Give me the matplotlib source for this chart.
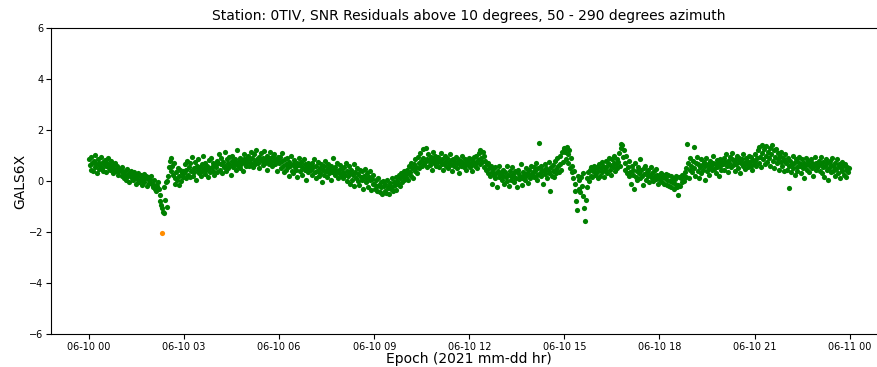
import matplotlib
matplotlib.use("Agg")
import matplotlib.dates as mdates
import matplotlib.pyplot as plt
import numpy as np
import pandas as pd

# residuals, one list per hour, 90 s epochs
hour_values = [
    [0.85, 0.62, 0.45, 0.95, 0.70, 0.38, 0.78, 1.02, 0.55, 0.66, 0.30, 0.88, 0.72, 0.48, 0.60, 0.95, 0.52, 0.75, 0.40, 0.68,
     0.82, 0.58, 0.35, 0.70, 0.90, 0.50, 0.62, 0.44, 0.78, 0.56, 0.30, 0.66, 0.48, 0.72, 0.40, 0.58, 0.25, 0.52, 0.38, 0.45],
    [0.42, 0.20, 0.55, 0.30, 0.10, 0.38, 0.25, 0.05, 0.48, 0.18, 0.32, -0.05, 0.22, 0.40, 0.12, 0.28, 0.02, 0.35, 0.15, -0.10,
     0.25, 0.08, 0.30, -0.02, 0.18, 0.05, 0.22, -0.15, 0.12, 0.28, -0.05, 0.10, 0.20, -0.20, 0.06, 0.15, -0.08, 0.02, 0.18, -0.12],
    [-0.10, -0.25, 0.05, -0.30, -0.15, -0.40, -0.20, -0.05, -0.30, -0.55, -0.80, -0.94, -1.06, -1.20, -1.25, -0.25, -0.75, -0.05, -1.00, 0.00,
     0.20, 0.55, 0.80, 0.40, 0.90, 0.60, 0.25, 0.70, 0.10, -0.10, 0.35, 0.05, 0.50, -0.15, 0.20, 0.45, 0.00, 0.30, 0.15, 0.40],
    [0.30, 0.65, 0.10, 0.45, 0.80, 0.25, 0.55, 0.15, 0.70, 0.40, 0.95, 0.20, 0.50, 0.35, 0.75, 0.05, 0.60, 0.45, 0.85, 0.30,
     0.55, 0.20, 0.68, 0.40, 1.00, 0.50, 0.28, 0.72, 0.45, 0.60, 0.15, 0.82, 0.50, 0.35, 0.90, 0.55, 0.40, 0.70, 0.25, 0.62],
    [0.55, 0.80, 0.35, 0.70, 1.05, 0.45, 0.65, 0.90, 0.30, 0.75, 0.55, 1.15, 0.60, 0.40, 0.85, 0.70, 0.50, 0.95, 0.62, 0.25,
     0.78, 1.00, 0.55, 0.68, 0.88, 0.42, 0.72, 1.20, 0.60, 0.80, 0.50, 0.92, 0.65, 0.75, 0.38, 0.85, 1.05, 0.70, 0.58, 0.90],
    [0.75, 1.00, 0.60, 0.85, 1.15, 0.70, 0.90, 0.55, 1.05, 0.80, 0.65, 1.20, 0.85, 0.72, 0.95, 0.50, 0.88, 1.10, 0.78, 0.62,
     0.92, 1.18, 0.70, 0.85, 0.45, 1.00, 0.80, 0.68, 1.12, 0.90, 0.75, 0.58, 0.98, 0.82, 1.05, 0.65, 0.88, 0.40, 0.78, 0.95],
    [0.70, 0.95, 0.50, 0.80, 1.10, 0.60, 0.35, 0.85, 0.65, 0.45, 0.90, 0.55, 0.20, 0.75, 0.60, 1.00, 0.40, 0.68, 0.30, 0.82,
     0.55, 0.45, 0.70, 0.15, 0.62, 0.90, 0.38, 0.58, 0.75, 0.25, 0.50, 0.85, 0.42, 0.65, 0.05, 0.55, 0.72, 0.35, 0.48, 0.60],
    [0.45, 0.70, 0.25, 0.55, 0.85, 0.35, 0.10, 0.60, 0.40, 0.75, 0.20, 0.50, 0.30, 0.65, -0.05, 0.45, 0.58, 0.25, 0.80, 0.38,
     0.15, 0.52, 0.68, 0.30, 0.42, 0.05, 0.60, 0.35, 0.90, 0.48, 0.22, 0.55, 0.40, 0.70, 0.12, 0.45, 0.32, 0.62, 0.25, 0.50],
    [0.35, 0.10, 0.55, 0.25, 0.70, 0.00, 0.40, 0.18, 0.60, -0.10, 0.30, 0.45, 0.05, 0.22, 0.65, -0.20, 0.35, 0.12, 0.50, 0.00,
     0.28, -0.15, 0.42, 0.15, 0.05, 0.38, -0.30, 0.20, 0.48, -0.05, 0.10, 0.32, -0.22, 0.15, 0.02, 0.40, -0.35, 0.08, 0.25, -0.12],
    [-0.10, -0.30, 0.05, -0.20, -0.40, 0.10, -0.15, -0.45, -0.05, -0.25, -0.50, 0.00, -0.20, -0.38, -0.12, -0.48, 0.05, -0.28, -0.18, -0.52,
     -0.08, -0.30, 0.10, -0.22, -0.40, -0.05, -0.15, 0.15, -0.35, 0.00, -0.10, 0.25, -0.20, 0.10, 0.30, -0.05, 0.20, 0.40, 0.05, 0.28],
    [0.15, 0.45, 0.30, 0.05, 0.60, 0.35, 0.20, 0.70, 0.50, 0.10, 0.65, 0.40, 0.85, 0.55, 0.30, 0.95, 0.70, 0.50, 1.10, 0.80,
     0.60, 1.25, 0.90, 0.65, 0.75, 1.30, 0.85, 0.55, 1.05, 0.78, 0.62, 0.95, 0.80, 0.45, 1.15, 0.88, 0.70, 1.00, 0.60, 0.82],
    [0.75, 0.95, 0.55, 0.80, 1.10, 0.65, 0.85, 0.45, 0.70, 1.00, 0.60, 0.78, 0.90, 0.50, 0.72, 1.05, 0.62, 0.82, 0.40, 0.68,
     0.88, 0.58, 0.75, 0.95, 0.52, 0.70, 0.85, 0.30, 0.65, 0.80, 0.60, 1.00, 0.72, 0.55, 0.88, 0.68, 0.45, 0.78, 0.62, 0.90],
    [0.70, 0.55, 0.85, 0.65, 0.40, 0.78, 0.95, 0.60, 0.72, 1.00, 0.50, 0.82, 1.10, 0.68, 1.20, 0.90, 0.75, 1.15, 0.55, 1.00,
     0.80, 0.45, 0.65, 0.30, 0.72, 0.50, 0.20, 0.60, 0.35, -0.10, 0.48, 0.25, 0.10, 0.55, 0.30, -0.25, 0.40, 0.15, 0.60, 0.22],
    [0.30, 0.05, 0.45, 0.20, -0.10, 0.35, 0.15, 0.60, 0.00, 0.25, -0.20, 0.40, 0.18, 0.05, 0.55, 0.28, -0.05, 0.15, 0.38, 0.10,
     -0.25, 0.30, 0.45, 0.08, 0.20, 0.65, 0.12, -0.15, 0.35, 0.25, 0.02, 0.50, 0.18, 0.30, -0.08, 0.42, 0.22, 0.10, 0.60, 0.28],
    [0.35, 0.55, 0.15, 0.40, 0.70, 0.25, 0.05, 0.50, 1.50, 0.30, 0.60, 0.20, 0.45, -0.10, 0.38, 0.65, 0.28, 0.50, 0.10, 0.42,
     0.75, 0.32, -0.40, 0.55, 0.20, 0.62, 0.40, 0.15, 0.80, 0.48, 0.30, 0.90, 0.58, 0.35, 1.00, 0.65, 0.45, 1.15, 0.75, 1.25],
    [1.30, 1.15, 0.85, 1.35, 1.05, 0.70, 1.20, 0.50, 0.90, 0.35, 0.60, 0.10, 0.40, -0.10, -0.40, -0.80, -1.14, 0.20, -0.30, 0.05,
     -0.43, 0.15, -0.20, 0.30, -0.60, -1.06, -1.57, -0.75, -0.25, 0.10, 0.35, 0.00, 0.45, 0.20, 0.55, 0.15, 0.40, 0.60, 0.25, 0.50],
    [0.30, 0.55, 0.10, 0.40, 0.65, 0.20, 0.50, 0.75, 0.35, 0.60, 0.15, 0.45, 0.80, 0.55, 0.30, 0.70, 0.90, 0.45, 0.62, 0.25,
     0.85, 0.55, 0.72, 1.00, 0.40, 0.65, 0.88, 0.50, 0.75, 1.10, 0.60, 1.30, 1.45, 1.40, 0.95, 1.20, 0.70, 0.45, 1.00, 0.30],
    [0.55, 0.20, 0.80, 0.35, -0.10, 0.60, 0.25, 0.45, -0.30, 0.70, 0.15, 0.40, 0.05, 0.55, 0.30, 0.85, 0.10, 0.42, 0.20, -0.15,
     0.50, 0.28, 0.60, 0.05, 0.35, 0.18, 0.45, -0.05, 0.25, 0.55, 0.12, 0.30, 0.00, 0.40, 0.20, 0.48, 0.08, 0.25, -0.10, 0.15],
    [0.20, 0.05, 0.30, -0.05, 0.15, 0.25, -0.10, 0.10, 0.28, -0.15, 0.05, 0.22, -0.20, 0.00, 0.18, -0.25, -0.05, 0.12, -0.30, 0.08,
     -0.10, 0.20, -0.25, -0.55, -0.15, 0.15, -0.20, 0.10, 0.25, -0.05, 0.20, 0.00, 0.35, 0.15, 0.50, 1.45, 0.70, 0.10, 0.90, 0.45],
    [0.60, 0.35, 0.80, 1.33, 0.50, 0.20, 0.70, 0.95, 0.40, 0.65, 0.10, 0.55, 0.85, 0.30, 0.62, 0.45, 0.75, 0.05, 0.58, 0.90,
     0.38, 0.68, 0.50, 0.25, 0.80, 0.60, 0.42, 0.72, 1.00, 0.48, 0.65, 0.30, 0.82, 0.55, 0.70, 0.20, 0.60, 0.88, 0.45, 0.75],
    [0.65, 0.90, 0.45, 0.75, 1.05, 0.60, 0.80, 0.35, 0.70, 0.95, 0.55, 0.85, 1.10, 0.62, 0.78, 0.40, 0.88, 0.68, 1.00, 0.52,
     0.75, 0.92, 0.30, 0.70, 0.85, 0.58, 1.05, 0.72, 0.48, 0.90, 0.65, 0.80, 0.55, 1.00, 0.75, 0.60, 0.95, 0.42, 0.82, 0.68],
    [0.80, 1.05, 0.60, 0.90, 1.20, 0.70, 1.35, 0.95, 0.55, 1.10, 1.40, 0.85, 1.25, 0.65, 1.00, 1.38, 0.75, 1.15, 0.90, 1.30,
     0.60, 1.05, 1.40, 0.80, 1.20, 0.50, 0.95, 1.25, 0.70, 1.10, 0.85, 0.45, 1.00, 0.75, 1.15, 0.60, 0.90, 0.40, 0.80, 1.05],
    [0.70, 0.45, 0.90, -0.27, 0.60, 0.80, 0.35, 0.65, 1.00, 0.50, 0.72, 0.25, 0.85, 0.55, 0.40, 0.75, 0.95, 0.60, 0.30, 0.68,
     0.85, 0.50, 0.10, 0.70, 0.58, 0.90, 0.42, 0.65, 0.78, 0.35, 0.60, 0.88, 0.50, 0.72, 0.20, 0.62, 0.95, 0.45, 0.70, 0.55],
    [0.60, 0.80, 0.40, 0.65, 0.95, 0.30, 0.55, 0.75, 0.15, 0.60, 0.85, 0.45, 0.70, 0.05, 0.50, 0.80, 0.35, 0.62, 0.90, 0.40,
     0.55, 0.20, 0.72, 0.48, 0.85, 0.30, 0.58, 0.65, 0.10, 0.50, 0.75, 0.38, 0.60, 0.25, 0.68, 0.45, 0.15, 0.55, 0.35, 0.50],
]

# flagged outlier
outlier_times = ["2021-06-10 02:18"]
outlier_values = [-2.05]

residuals = np.concatenate([np.array(h) for h in hour_values])
epochs = pd.date_range("2021-06-10 00:00", periods=len(residuals), freq="90s")

fig = plt.figure(figsize=(8.77, 3.67), dpi=100)
ax = fig.add_axes([0.0582, 0.0899, 0.953, 0.8338])

ax.scatter(epochs, residuals, s=14, color="green", linewidths=0)
ax.scatter(pd.to_datetime(outlier_times), outlier_values, s=14, color="darkorange", linewidths=0)

ax.set_ylim(-6, 6)
ax.set_yticks([-6, -4, -2, 0, 2, 4, 6])
ax.xaxis.set_major_locator(mdates.HourLocator(byhour=range(0, 24, 3)))
ax.xaxis.set_major_formatter(mdates.DateFormatter("%m-%d %H"))
ax.tick_params(axis="both", labelsize=7)
ax.tick_params(axis="x", pad=2)
ax.tick_params(axis="y", pad=2)

ax.set_title("Station: 0TIV, SNR Residuals above 10 degrees, 50 - 290 degrees azimuth", fontsize=10)
ax.set_xlabel("Epoch (2021 mm-dd hr)", fontsize=10, labelpad=0)
ax.set_ylabel("GALS6X", fontsize=10, labelpad=1.5)

fig.savefig("out.png", dpi=100)
